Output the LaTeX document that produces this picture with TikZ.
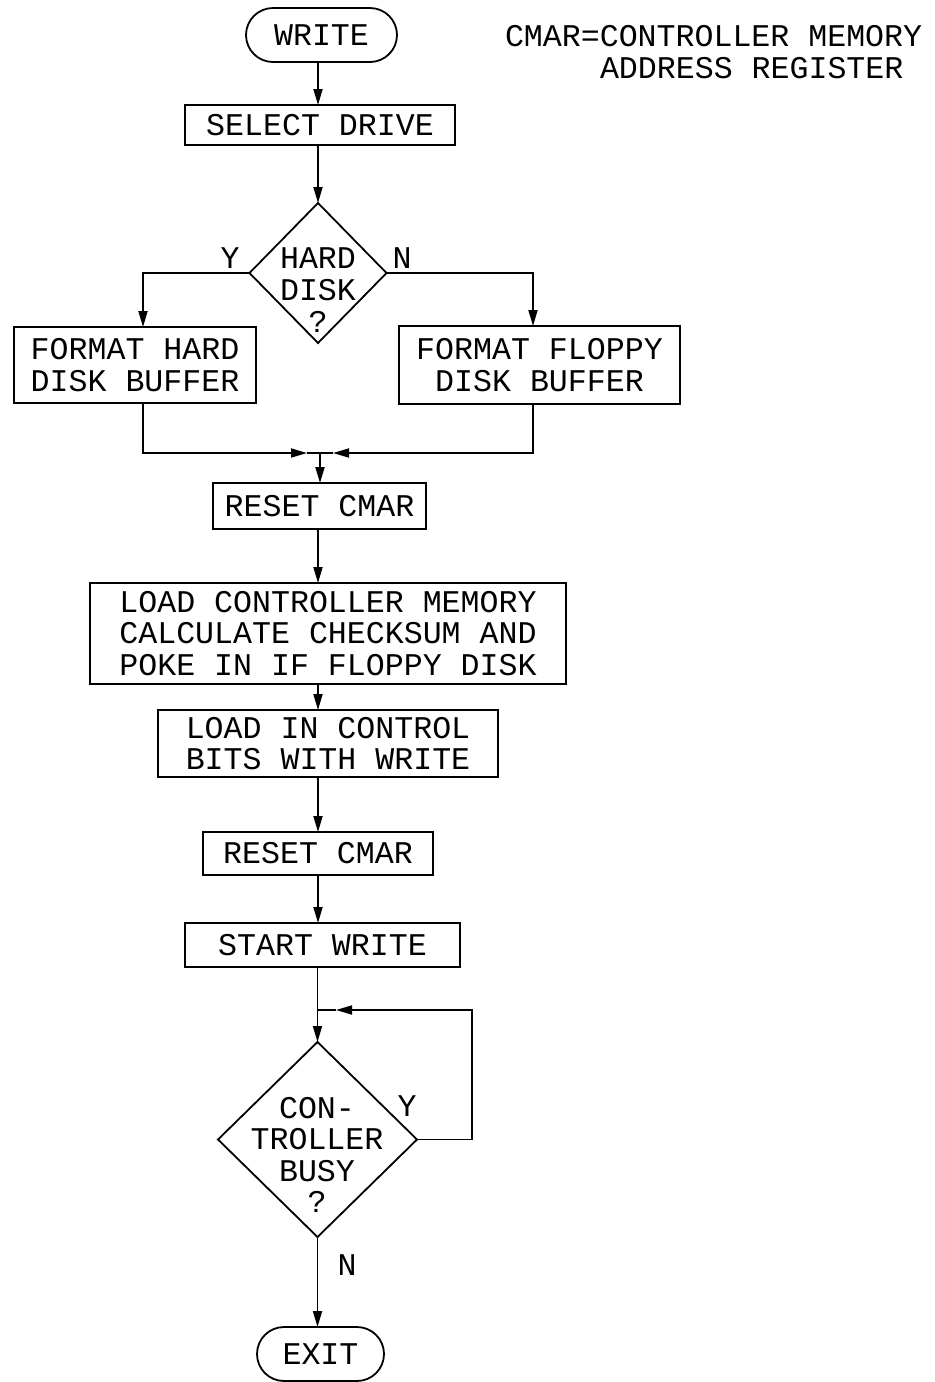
\documentclass[tikz,border=0pt]{standalone}
\usepackage{fontspec}
\setmainfont{Liberation Mono}
\usetikzlibrary{arrows.meta,shapes.geometric,calc}

\begin{document}
\begin{tikzpicture}[x=0.5pt, y=-0.5pt, line width=0.9pt,
    every node/.style={font=\fontsize{15.8}{15.8}\selectfont, align=center, inner sep=0pt, outer sep=0pt},
    box/.style={draw, rectangle},
    term/.style={draw, rectangle, rounded corners=13.5pt},
    decide/.style={draw, diamond},
    flow/.style={-{Triangle[length=8pt,width=4.5pt]}}]
    \useasboundingbox (0,0) rectangle (934,1382);

    % Terminals and note
    \node[term, minimum width=75.5pt, minimum height=27pt] (write) at (321.5,35) {WRITE};
    \node[anchor=west] (note1) at (505,36) {CMAR=CONTROLLER MEMORY};
    \node[anchor=west] (note2) at (600,68) {ADDRESS REGISTER};

    % Drive selection
    \node[box, minimum width=135pt, minimum height=20pt] (select) at (320,125) {SELECT DRIVE};
    \node[decide, minimum width=68.5pt, minimum height=70pt] (hard) at (318,273) {};
    \node (hardtxt) at (318,290) {HARD\\DISK\\?};
    \node (yes1) at (230,258) {Y};
    \node (no1) at (402,258) {N};
    \node[box, minimum width=121pt, minimum height=38pt] (fmthard) at (135,365) {FORMAT HARD\\DISK BUFFER};
    \node[box, minimum width=140.5pt, minimum height=39pt] (fmtfloppy) at (539.5,365) {FORMAT FLOPPY\\DISK BUFFER};

    % Main column
    \node[box, minimum width=106.5pt, minimum height=23pt] (reset1) at (319.5,506) {RESET CMAR};
    \node[box, minimum width=238pt, minimum height=50.5pt] (load) at (328,633.5) {LOAD CONTROLLER MEMORY\\CALCULATE CHECKSUM AND\\POKE IN IF FLOPPY DISK};
    \node[box, minimum width=170pt, minimum height=33.5pt] (bits) at (328,743.5) {LOAD IN CONTROL\\BITS WITH WRITE};
    \node[box, minimum width=115pt, minimum height=21.5pt] (reset2) at (318,853.5) {RESET CMAR};
    \node[box, minimum width=137.5pt, minimum height=22pt] (start) at (322.5,945) {START WRITE};

    % Busy loop
    \node[decide, minimum width=99.5pt, minimum height=97.5pt] (busy) at (317.5,1139.5) {};
    \node (busytxt) at (317,1155) {CON-\\TROLLER\\BUSY\\?};
    \node (yes2) at (407,1106) {Y};
    \node (no2) at (347,1265) {N};
    \node[term, minimum width=63.5pt, minimum height=27pt] (exit) at (320.5,1354) {EXIT};

    % Connectors
    \coordinate (col) at (318,0);
    \coordinate (lcol) at (143,0);
    \coordinate (rcol) at (533,0);
    \coordinate (mrg) at (320,453);
    \coordinate (mrgl) at (307,453);
    \coordinate (mrgr) at (333,453);
    \coordinate (loopc) at (472,1010);
    \coordinate (loope) at (336,1010);

    \draw[flow] (col |- write.south) -- (col |- select.north);
    \draw[flow] (col |- select.south) -- (hard.north);
    \draw[flow] (hard.west) -| (lcol |- fmthard.north);
    \draw[flow] (hard.east) -| (rcol |- fmtfloppy.north);
    \draw[flow] (lcol |- fmthard.south) |- (mrgl);
    \draw[flow] (rcol |- fmtfloppy.south) |- (mrgr);
    \draw (mrgl) -- (mrgr);
    \draw[flow] (mrg) -- (mrg |- reset1.north);
    \draw[flow] (col |- reset1.south) -- (col |- load.north);
    \draw[flow] (col |- load.south) -- (col |- bits.north);
    \draw[flow] (col |- bits.south) -- (col |- reset2.north);
    \draw[flow] (col |- reset2.south) -- (col |- start.north);
    \draw[flow] (busy.north |- start.south) -- (busy.north);
    \draw[flow] (busy.east) -| (loopc) -- (loope);
    \draw (loope) -- (loope -| busy.north);
    \draw[flow] (busy.south) -- (busy.south |- exit.north);
\end{tikzpicture}
\end{document}
